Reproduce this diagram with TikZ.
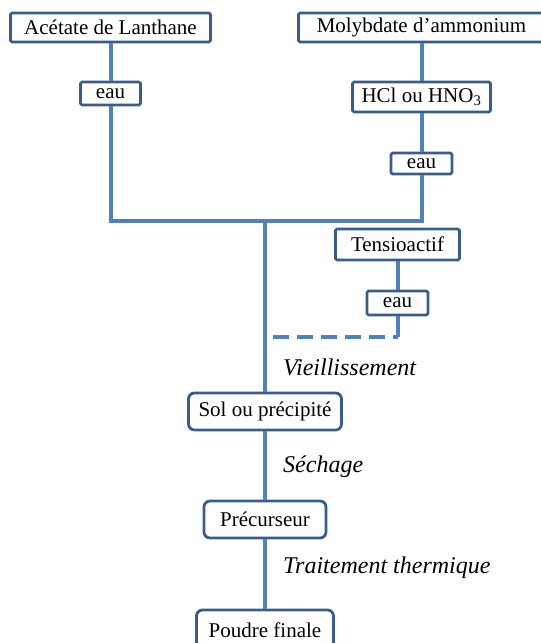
\documentclass[tikz,border=0pt]{standalone}
\usepackage{fontspec}
\setmainfont{Liberation Serif}
\usetikzlibrary{positioning}
\definecolor{linkblue}{RGB}{79,129,189}
\definecolor{boxblue}{RGB}{56,93,138}
\tikzset{
    reagent/.style={
        draw=boxblue,line width=2.8pt,rounded corners=1.5pt,
        fill=white,inner sep=0pt,
        font=\fontsize{21}{24}\selectfont
    },
    product/.style={reagent,rounded corners=6pt},
    link/.style={draw=linkblue,line width=4pt},
    stage/.style={anchor=west,inner sep=0pt,font=\fontsize{24}{28}\selectfont\itshape}
}

\begin{document}
\begin{tikzpicture}[x=1pt,y=-1pt]
\clip (0,0) rectangle (541,643);
% reagents
\node[reagent,minimum width=200pt,minimum height=29pt] (acetate) at (110.5,27.5) {Acétate de Lanthane};
\node[reagent,minimum width=246pt,minimum height=29pt] (molyb) at (421.5,27.5) {Molybdate d’ammonium};
\node[reagent,minimum width=60pt,minimum height=23pt] (eau1) at (110.5,93.5) {eau};
\node[reagent,minimum width=138pt,minimum height=30pt] (hcl) at (421.5,97) {HCl ou HNO\textsubscript{3}};
\node[reagent,minimum width=61pt,minimum height=21pt] (eau2) at (421.5,163.5) {eau};
\node[reagent,minimum width=124pt,minimum height=31pt] (tensio) at (397.5,244.5) {Tensioactif};
\node[reagent,minimum width=61pt,minimum height=24pt] (eau3) at (397.5,303) {eau};
% products
\node[product,minimum width=153pt,minimum height=37pt] (sol) at (265,411.5) {Sol ou précipité};
\node[product,minimum width=122pt,minimum height=37pt] (prec) at (265,519.5) {Précurseur};
\node[product,minimum width=137pt,minimum height=40pt] (poudre) at (265,630) {Poudre finale};
% junctions
\coordinate (mix) at (265,221);
\coordinate (drop) at (397.5,337);
\coordinate (join) at (273,337);
% connectors
\draw[link] (acetate) -- (eau1);
\draw[link] (molyb) -- (hcl);
\draw[link] (hcl) -- (eau2);
\draw[link] (eau1) |- (mix) -| (eau2);
\draw[link] (mix) -- (sol);
\draw[link] (tensio) -- (eau3) -- (drop);
\draw[link,dash pattern=on 16pt off 8pt] (join) -- (drop);
\draw[link] (sol) -- (prec);
\draw[link] (prec) -- (poudre);
% stages
\node[stage] (vieil) at (283,367) {Vieillissement};
\node[stage] (sech) at (283,467) {Séchage};
\node[stage] (trait) at (283,568) {Traitement thermique};
\end{tikzpicture}
\end{document}
